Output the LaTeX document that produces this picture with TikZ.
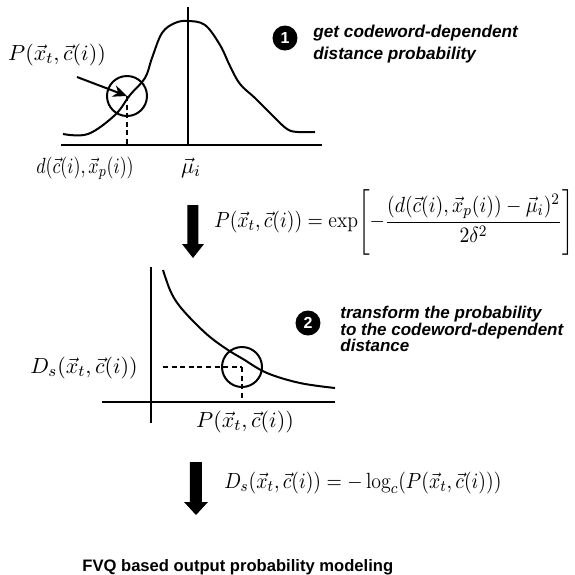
\documentclass[tikz,border=0pt]{standalone}
\usepackage{amsmath}
\usepackage{graphicx}
\usepackage{fontspec}
\usetikzlibrary{arrows.meta}
\newfontfamily\labelfont{Liberation Sans}
\newcommand{\xvt}{\vec{x}_{t}}
\newcommand{\cvi}{\vec{c}(i)}
\newcommand{\Pxc}{P(\xvt,\cvi)}

\begin{document}
\begin{tikzpicture}[
  x=0.5pt, y=-0.5pt,
  axis/.style={draw=black, line width=1pt},
  curve/.style={draw=black, line width=1pt, smooth, tension=0.6},
  guide/.style={draw=black, line width=0.9pt, dash pattern=on 2.5pt off 1.8pt},
  ring/.style={circle, draw=black, line width=1pt, minimum size=20pt, inner sep=0pt},
  badge/.style={circle, fill=black, text=white, minimum size=12.5pt, inner sep=0pt,
    font=\labelfont\bfseries\fontsize{8}{8}\selectfont},
  steptext/.style={align=left, anchor=west, inner sep=0pt,
    font=\labelfont\bfseries\itshape\fontsize{8.6}{11}\selectfont},
  mathlabel/.style={inner sep=0pt, font=\fontsize{11}{13}\selectfont},
  pointer/.style={draw=black, line width=1pt, -{Stealth[length=7pt, width=6pt]}}
]
\useasboundingbox (0,0) rectangle (575,575);
% step 1: gaussian
\draw[axis] (61,145) -- (322,145);
\draw[axis] (188,7) -- (188,145);
\draw[curve] plot coordinates {(63,134) (88,134) (115,115) (130,95) (145,78)
  (152,58) (162,33) (175,23) (188,21) (205,25) (220,45) (230,66) (240,84)
  (255,98) (272,115) (287,129) (298,132) (315,132)};
\node[ring] (circA) at (127,96) {};
\draw[guide] (circA.center) -- (circA.center |- 0,145);
\node[mathlabel] (plabelA) at (57,55) {$\Pxc$};
\coordinate (ptail) at (77,77);
\draw[pointer] (ptail) -- (circA.center);
\node[mathlabel] (dlabel) at (85,168) {\scalebox{0.82}[1]{$d(\cvi,\vec{x}_{p}(i))$}};
\node[mathlabel] (mulabel) at (191,168) {$\vec{\mu}_{i}$};
\node[badge] (badgeA) at (285,38) {1};
\node[steptext] (textA) at (313,44) {get codeword-dependent\\distance probability};
% first block arrow and formula
\coordinate (arrA) at (193,205);
\fill (arrA) ++(-5.5,0) -- ++(11,0) -- ++(0,39) -- ++(5.5,0) -- ++(-11,14)
  -- ++(-11,-14) -- ++(5.5,0) -- cycle;
\node[mathlabel, anchor=west] (eqA) at (214,222)
  {\scalebox{0.9}[1]{$\displaystyle \Pxc=\exp\Biggl[-\frac{(d(\cvi,\vec{x}_{p}(i))-\vec{\mu}_{i})^{2}}{2\delta^{2}}\Biggr]$}};
% step 2: distance curve
\draw[axis] (151,267) -- (151,423);
\draw[axis] (102,402) -- (335,402);
\draw[curve] plot coordinates {(163,270) (170,290) (178,304) (192,320) (210,337)
  (228,350) (243,359) (267,373) (300,383) (335,388)};
\node[ring] (circB) at (242,367) {};
\draw[guide] (163,367) -- (circB.center);
\draw[guide] (circB.center) -- (circB.center |- 0,402);
\node[mathlabel] (dslabel) at (84,368) {$D_{s}(\xvt,\cvi)$};
\node[mathlabel] (plabelB) at (245,422) {$\Pxc$};
\node[badge] (badgeB) at (308,323) {2};
\node[steptext, font=\labelfont\bfseries\itshape\fontsize{8.5}{8.2}\selectfont]
  (textB) at (340,329) {transform the probability\\to the codeword-dependent\\distance};
% second block arrow and formula
\coordinate (arrB) at (196,462);
\fill (arrB) ++(-6,0) -- ++(12,0) -- ++(0,40) -- ++(6,0) -- ++(-12,13)
  -- ++(-12,-13) -- ++(6,0) -- cycle;
\node[mathlabel, anchor=west] (eqB) at (224,483)
  {\scalebox{0.9}[1]{$D_{s}(\xvt,\cvi)=-\log_{c}(P(\xvt,\cvi))$}};
\node[anchor=west, inner sep=0pt, font=\labelfont\bfseries\fontsize{8.3}{10}\selectfont]
  (caption) at (82,567) {FVQ based output probability modeling};
\end{tikzpicture}
\end{document}
